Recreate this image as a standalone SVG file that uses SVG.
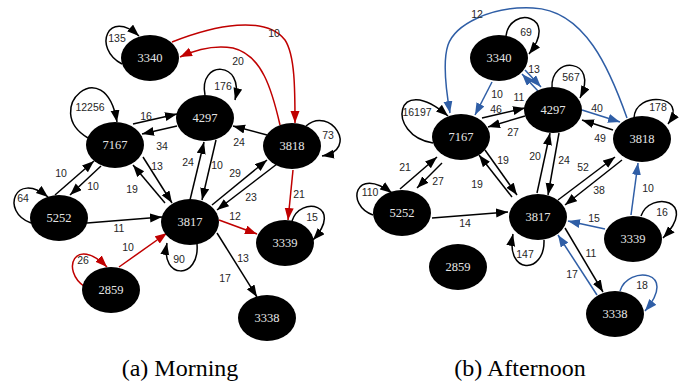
<svg xmlns="http://www.w3.org/2000/svg" width="689" height="383" viewBox="0 0 689 383">
<style>
.e{fill:none;stroke:#000;stroke-width:1.5;marker-end:url(#ak)}
.r{fill:none;stroke:#c00000;stroke-width:1.5;marker-end:url(#ar)}
.b{fill:none;stroke:#2f5ea6;stroke-width:1.5;marker-end:url(#ab)}
.n ellipse{fill:#000}
.n text{font-family:"Liberation Serif","Times New Roman",serif;font-size:12.5px;fill:#e6e6e6;text-anchor:middle}
.l{font-family:"Liberation Sans",Arial,sans-serif;font-size:10.5px;fill:#262626;text-anchor:middle}
.cap{font-family:"Liberation Serif","Times New Roman",serif;font-size:24px;fill:#000;text-anchor:middle}
</style>
<defs>
<marker id="ak" markerUnits="userSpaceOnUse" markerWidth="13" markerHeight="10" refX="12" refY="4.5" orient="auto"><path d="M0,0 L12,4.5 L0,9 z" fill="#000"/></marker>
<marker id="ar" markerUnits="userSpaceOnUse" markerWidth="13" markerHeight="10" refX="12" refY="4.5" orient="auto"><path d="M0,0 L12,4.5 L0,9 z" fill="#c00000"/></marker>
<marker id="ab" markerUnits="userSpaceOnUse" markerWidth="13" markerHeight="10" refX="12" refY="4.5" orient="auto"><path d="M0,0 L12,4.5 L0,9 z" fill="#2f5ea6"/></marker>
</defs>
<rect width="689" height="383" fill="#fff"/>
<g id="connectors">
<!-- Morning self loops -->
<path class="e" d="M122,64 C92,48 108,8 139,36"/>
<path class="e" d="M205,95 C198,60 245,60 235,100"/>
<path class="e" d="M88,138 C40,110 105,50 117,122"/>
<path class="e" d="M306,126 C330,105 360,150 322,156"/>
<path class="e" d="M31,223 C0,212 15,170 48,197"/>
<path class="e" d="M197,244 C200,280 160,280 167,243"/>
<path class="e" d="M292,221 C300,195 345,205 313,240"/>
<path class="r" d="M85,287 C60,270 75,235 107,267"/>
<!-- Morning edges -->
<path class="r" d="M172,42 C215,25 265,15 285,40 C295,55 295,90 295,123"/>
<path class="r" d="M280,125 C272,90 262,55 233,48 C215,45 195,50 180,57"/>
<path class="e" d="M133,124 L177,114"/>
<path class="e" d="M177,126 L142,134"/>
<path class="e" d="M267,135 L233,126"/>
<path class="e" d="M190,200 L204,142"/>
<path class="e" d="M216,140 L202,200"/>
<path class="e" d="M143,157 L172,203"/>
<path class="e" d="M165,203 L133,165"/>
<path class="e" d="M55,195 L94,161"/>
<path class="e" d="M101,166 L70,195"/>
<path class="e" d="M87,223 L162,217"/>
<path class="e" d="M277,164 L217,210"/>
<path class="e" d="M212,205 L267,160"/>
<path class="r" d="M293,170 L288,220"/>
<path class="r" d="M219,220 L257,234"/>
<path class="r" d="M119,267 L167,233"/>
<path class="e" d="M217,233 L257,297"/>
<!-- Afternoon self loops -->
<path class="e" d="M506,36 C510,5 560,15 529,54"/>
<path class="e" d="M552,88 C550,55 600,58 580,98"/>
<path class="e" d="M433,143 C385,135 395,70 448,116"/>
<path class="e" d="M634,118 C635,90 690,95 668,124"/>
<path class="e" d="M373,215 C345,205 355,165 392,193"/>
<path class="e" d="M544,240 C545,275 505,275 513,234"/>
<path class="e" d="M641,216 C650,190 700,200 663,238"/>
<path class="b" d="M620,291 C628,265 680,270 645,311"/>
<!-- Afternoon edges -->
<path class="b" d="M627,118 C610,70 585,10 533,8 C490,6 455,25 448,45 C443,60 446,90 450,113"/>
<path class="b" d="M492,82 L475,115"/>
<path class="b" d="M525,70 L541,87"/>
<path class="b" d="M538,91 L522,74"/>
<path class="e" d="M482,118 L525,108"/>
<path class="e" d="M525,116 L488,127"/>
<path class="b" d="M582,110 L620,122"/>
<path class="e" d="M613,130 L582,120"/>
<path class="e" d="M485,150 L517,195"/>
<path class="e" d="M512,197 L479,155"/>
<path class="e" d="M537,193 L550,133"/>
<path class="e" d="M559,133 L548,195"/>
<path class="e" d="M400,189 L437,157"/>
<path class="e" d="M442,163 L417,188"/>
<path class="e" d="M432,218 L508,212"/>
<path class="e" d="M558,200 L615,157"/>
<path class="e" d="M622,160 L565,205"/>
<path class="b" d="M631,215 L638,163"/>
<path class="b" d="M605,229 L568,221"/>
<path class="e" d="M565,228 L603,292"/>
<path class="b" d="M597,295 L558,235"/>
</g>
<g id="edge-labels">
<text class="l" x="117" y="42">135</text>
<text class="l" x="223" y="90">176</text>
<text class="l" x="90" y="111">12256</text>
<text class="l" x="328" y="139">73</text>
<text class="l" x="23" y="202">64</text>
<text class="l" x="179" y="263">90</text>
<text class="l" x="312" y="221">15</text>
<text class="l" x="83" y="264">26</text>
<text class="l" x="274" y="37">10</text>
<text class="l" x="238" y="65">20</text>
<text class="l" x="146" y="120">16</text>
<text class="l" x="162" y="150">34</text>
<text class="l" x="239" y="146">24</text>
<text class="l" x="188" y="166">24</text>
<text class="l" x="217" y="169">10</text>
<text class="l" x="157" y="170">13</text>
<text class="l" x="132" y="193">19</text>
<text class="l" x="61" y="177">10</text>
<text class="l" x="93" y="190">10</text>
<text class="l" x="119" y="232">11</text>
<text class="l" x="251" y="201">23</text>
<text class="l" x="235" y="177">29</text>
<text class="l" x="299" y="198">21</text>
<text class="l" x="235" y="220">12</text>
<text class="l" x="128" y="251">10</text>
<text class="l" x="243" y="262">13</text>
<text class="l" x="225" y="282">17</text>
<text class="l" x="526" y="36">69</text>
<text class="l" x="571" y="81">567</text>
<text class="l" x="417" y="116">16197</text>
<text class="l" x="658" y="111">178</text>
<text class="l" x="370" y="196">110</text>
<text class="l" x="525" y="258">147</text>
<text class="l" x="662" y="216">16</text>
<text class="l" x="642" y="289">18</text>
<text class="l" x="477" y="18">12</text>
<text class="l" x="497" y="98">10</text>
<text class="l" x="534" y="73">13</text>
<text class="l" x="519" y="101">11</text>
<text class="l" x="496" y="113">46</text>
<text class="l" x="513" y="136">27</text>
<text class="l" x="597" y="112">40</text>
<text class="l" x="600" y="142">49</text>
<text class="l" x="503" y="164">19</text>
<text class="l" x="477" y="188">19</text>
<text class="l" x="535" y="160">20</text>
<text class="l" x="564" y="164">24</text>
<text class="l" x="405" y="171">21</text>
<text class="l" x="438" y="185">27</text>
<text class="l" x="465" y="227">14</text>
<text class="l" x="583" y="171">52</text>
<text class="l" x="599" y="194">38</text>
<text class="l" x="648" y="192">10</text>
<text class="l" x="594" y="222">15</text>
<text class="l" x="591" y="257">11</text>
<text class="l" x="572" y="278">17</text>
</g>
<g id="a3340" class="n"><ellipse cx="150" cy="58" rx="29" ry="23"/><text x="150" y="62">3340</text></g>
<g id="a4297" class="n"><ellipse cx="205" cy="118" rx="29" ry="23"/><text x="205" y="122">4297</text></g>
<g id="a7167" class="n"><ellipse cx="115" cy="145" rx="29" ry="23"/><text x="115" y="149">7167</text></g>
<g id="a3818" class="n"><ellipse cx="292" cy="146" rx="29" ry="23"/><text x="292" y="150">3818</text></g>
<g id="a5252" class="n"><ellipse cx="59" cy="218" rx="29" ry="23"/><text x="59" y="222">5252</text></g>
<g id="a3817" class="n"><ellipse cx="190" cy="222" rx="29" ry="23"/><text x="190" y="226">3817</text></g>
<g id="a3339" class="n"><ellipse cx="285" cy="243" rx="29" ry="23"/><text x="285" y="247">3339</text></g>
<g id="a2859" class="n"><ellipse cx="111" cy="290" rx="29" ry="23"/><text x="111" y="294">2859</text></g>
<g id="a3338" class="n"><ellipse cx="267" cy="318" rx="29" ry="23"/><text x="267" y="322">3338</text></g>
<g id="b3340" class="n"><ellipse cx="499" cy="58" rx="29" ry="23"/><text x="499" y="62">3340</text></g>
<g id="b4297" class="n"><ellipse cx="553" cy="110" rx="29" ry="23"/><text x="553" y="114">4297</text></g>
<g id="b7167" class="n"><ellipse cx="461" cy="137" rx="29" ry="23"/><text x="461" y="141">7167</text></g>
<g id="b3818" class="n"><ellipse cx="642" cy="139" rx="29" ry="23"/><text x="642" y="143">3818</text></g>
<g id="b5252" class="n"><ellipse cx="402" cy="213" rx="29" ry="23"/><text x="402" y="217">5252</text></g>
<g id="b3817" class="n"><ellipse cx="538" cy="217" rx="29" ry="23"/><text x="538" y="221">3817</text></g>
<g id="b3339" class="n"><ellipse cx="633" cy="239" rx="29" ry="23"/><text x="633" y="243">3339</text></g>
<g id="b2859" class="n"><ellipse cx="458" cy="267" rx="29" ry="23"/><text x="458" y="271">2859</text></g>
<g id="b3338" class="n"><ellipse cx="615" cy="314" rx="29" ry="23"/><text x="615" y="318">3338</text></g>
<text class="cap" x="180" y="376">(a) Morning</text>
<text class="cap" x="520" y="376">(b) Afternoon</text>
</svg>
